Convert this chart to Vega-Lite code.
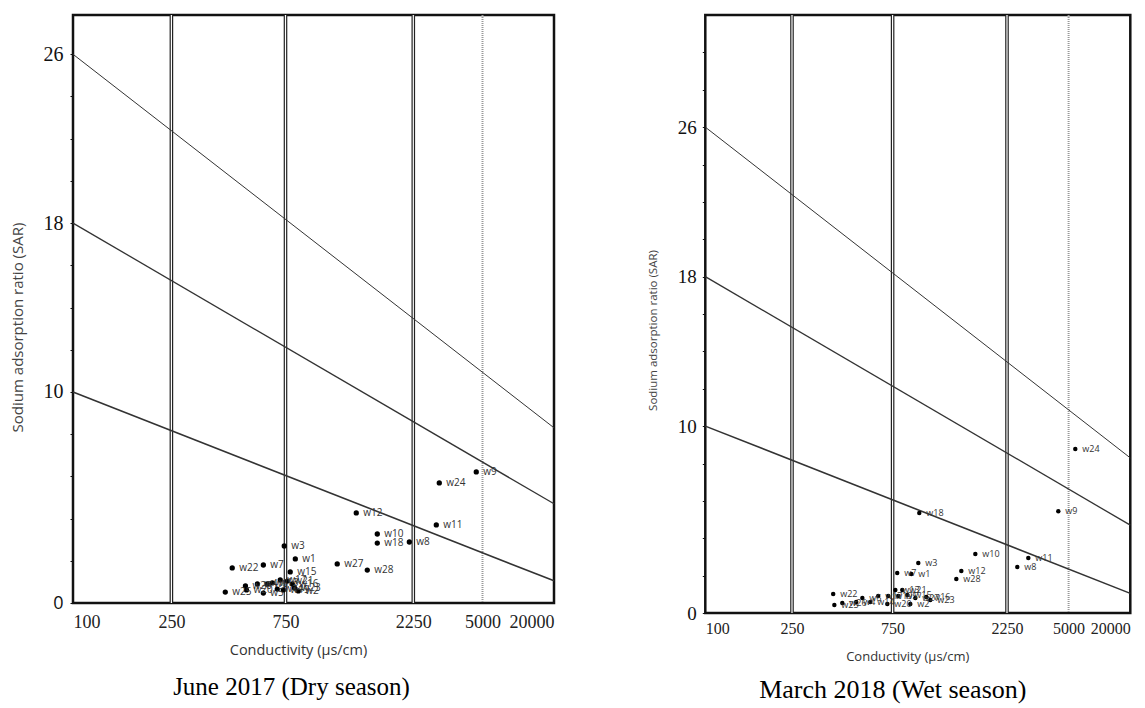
{
  "$schema": "https://vega.github.io/schema/vega-lite/v6.json",
  "background": "white",
  "padding": {"left": 8, "top": 11, "right": 5, "bottom": 2},
  "bounds": "flush",
  "spacing": 151.3,
  "config": {
    "view": {"stroke": "#111", "strokeWidth": 2.5},
    "axis": {"grid": false}
  },
  "datasets": {
    "hazard": [
      {"boundary": "S4/S3", "ec": 100, "sar": 26},
      {"boundary": "S4/S3", "ec": 20000, "sar": 8.3},
      {"boundary": "S3/S2", "ec": 100, "sar": 18},
      {"boundary": "S3/S2", "ec": 20000, "sar": 4.7},
      {"boundary": "S2/S1", "ec": 100, "sar": 10},
      {"boundary": "S2/S1", "ec": 20000, "sar": 1.05}
    ],
    "classes": [{"ec": 250}, {"ec": 750}, {"ec": 2250}],
    "limit": [{"ec": 5000}],
    "june": [
      {"well": "w1", "ec": 816, "sar": 2.09},
      {"well": "w2", "ec": 837, "sar": 0.57},
      {"well": "w3", "ec": 741, "sar": 2.70},
      {"well": "w4", "ec": 572, "sar": 0.90},
      {"well": "w5", "ec": 606, "sar": 0.47},
      {"well": "w6", "ec": 629, "sar": 0.90},
      {"well": "w7", "ec": 606, "sar": 1.80},
      {"well": "w8", "ec": 2175, "sar": 2.89},
      {"well": "w9", "ec": 4653, "sar": 6.21},
      {"well": "w10", "ec": 1651, "sar": 3.27},
      {"well": "w11", "ec": 2934, "sar": 3.70},
      {"well": "w12", "ec": 1378, "sar": 4.27},
      {"well": "w13", "ec": 660, "sar": 0.95},
      {"well": "w14", "ec": 693, "sar": 0.66},
      {"well": "w15", "ec": 781, "sar": 1.47},
      {"well": "w16", "ec": 795, "sar": 0.90},
      {"well": "w17", "ec": 713, "sar": 1.09},
      {"well": "w18", "ec": 1651, "sar": 2.84},
      {"well": "w19", "ec": 734, "sar": 0.62},
      {"well": "w20", "ec": 515, "sar": 0.62},
      {"well": "w21", "ec": 761, "sar": 1.04},
      {"well": "w22", "ec": 449, "sar": 1.66},
      {"well": "w23", "ec": 810, "sar": 0.71},
      {"well": "w24", "ec": 3037, "sar": 5.69},
      {"well": "w25", "ec": 420, "sar": 0.52},
      {"well": "w26", "ec": 510, "sar": 0.81},
      {"well": "w27", "ec": 1170, "sar": 1.85},
      {"well": "w28", "ec": 1515, "sar": 1.56}
    ],
    "march": [
      {"well": "w1", "ec": 898, "sar": 2.09},
      {"well": "w2", "ec": 889, "sar": 0.48},
      {"well": "w3", "ec": 960, "sar": 2.67},
      {"well": "w4", "ec": 504, "sar": 0.59},
      {"well": "w5", "ec": 792, "sar": 0.91},
      {"well": "w6", "ec": 539, "sar": 0.80},
      {"well": "w7", "ec": 784, "sar": 2.14},
      {"well": "w8", "ec": 2571, "sar": 2.46},
      {"well": "w9", "ec": 4376, "sar": 5.45},
      {"well": "w10", "ec": 1660, "sar": 3.16},
      {"well": "w11", "ec": 2966, "sar": 2.94},
      {"well": "w12", "ec": 1451, "sar": 2.25},
      {"well": "w13", "ec": 770, "sar": 1.23},
      {"well": "w14", "ec": 588, "sar": 0.59},
      {"well": "w15", "ec": 864, "sar": 0.96},
      {"well": "w16", "ec": 1036, "sar": 0.86},
      {"well": "w17", "ec": 641, "sar": 0.91},
      {"well": "w18", "ec": 969, "sar": 5.35},
      {"well": "w19", "ec": 715, "sar": 0.91},
      {"well": "w20", "ec": 708, "sar": 0.48},
      {"well": "w21", "ec": 823, "sar": 1.23},
      {"well": "w22", "ec": 392, "sar": 1.02},
      {"well": "w23", "ec": 1077, "sar": 0.70},
      {"well": "w24", "ec": 5813, "sar": 8.77},
      {"well": "w25", "ec": 397, "sar": 0.43},
      {"well": "w26", "ec": 433, "sar": 0.53},
      {"well": "w27", "ec": 933, "sar": 0.80},
      {"well": "w28", "ec": 1383, "sar": 1.82}
    ]
  },
  "hconcat": [
    {
      "width": 481,
      "height": 588,
      "title": {"text": "June 2017 (Dry season)", "orient": "bottom", "font": "Liberation Serif", "fontSize": 25, "fontWeight": "normal", "color": "#000", "offset": 18, "dx": -22},
      "encoding": {
        "x": {
          "field": "ec", "type": "quantitative",
          "scale": {"type": "log", "domain": [100, 250, 750, 2250, 5000, 20000], "range": [0, 98.4, 212.5, 340.3, 409.5, 481], "nice": false, "zero": false},
          "axis": {
            "values": [100, 250, 750, 2250, 5000, 20000], "format": "d", "ticks": false, "domain": false,
            "labelFont": "Liberation Serif", "labelFontSize": 18, "labelColor": "#222", "labelPadding": 10,
            "title": "Conductivity (μs/cm)", "titleFont": "Open Sans", "titleFontSize": 14.5, "titleFontWeight": "normal", "titleColor": "#333", "titlePadding": 12, "titleX": 225
          }
        }
      },
      "layer": [
        {
          "data": {"name": "classes"},
          "mark": {"type": "rule", "color": "#222", "strokeWidth": 3.6}
        },
        {
          "data": {"name": "classes"},
          "mark": {"type": "rule", "color": "#fff", "strokeWidth": 1.2}
        },
        {
          "data": {"name": "limit"},
          "mark": {"type": "rule", "color": "#999", "strokeWidth": 2, "strokeDash": [1, 1]}
        },
        {
          "data": {"name": "hazard"},
          "mark": {"type": "line", "color": "#333"},
          "encoding": {
            "y": {
              "field": "sar", "type": "quantitative",
              "scale": {"domain": [0, 27.86], "nice": false, "zero": false},
              "axis": {
                "values": [0, 2, 4, 6, 8, 10, 12, 14, 16, 18, 20, 22, 24, 26],
                "labelExpr": "indexof([0, 10, 18, 26], datum.value) >= 0 ? datum.label : ''",
                "domain": false, "ticks": true, "tickSize": 3, "tickColor": "#111", "tickWidth": 1,
                "labelFont": {"condition": {"test": "datum.value === 0", "value": "Open Sans"}, "value": "Liberation Serif"},
                "labelFontSize": {"condition": {"test": "datum.value === 0", "value": 18}, "value": 20},
                "labelColor": "#111", "labelPadding": 7, "minExtent": 38, "maxExtent": 38,
                "title": "Sodium adsorption ratio (SAR)", "titleFont": "Open Sans", "titleFontSize": 15, "titleFontWeight": "normal", "titleColor": "#444", "titlePadding": 10, "titleY": 312
              }
            },
            "detail": {"field": "boundary"},
            "strokeWidth": {"field": "boundary", "type": "nominal", "scale": {"domain": ["S4/S3", "S3/S2", "S2/S1"], "range": [1, 1.6, 2]}, "legend": null}
          }
        },
        {
          "data": {"name": "june"},
          "mark": {"type": "circle", "color": "#000", "size": 28, "opacity": 1},
          "encoding": {
            "y": {
              "field": "sar", "type": "quantitative",
              "scale": {"domain": [0, 27.86], "nice": false, "zero": false},
              "axis": {
                "values": [0, 2, 4, 6, 8, 10, 12, 14, 16, 18, 20, 22, 24, 26],
                "labelExpr": "indexof([0, 10, 18, 26], datum.value) >= 0 ? datum.label : ''",
                "domain": false, "ticks": true, "tickSize": 3, "tickColor": "#111", "tickWidth": 1,
                "labelFont": {"condition": {"test": "datum.value === 0", "value": "Open Sans"}, "value": "Liberation Serif"},
                "labelFontSize": {"condition": {"test": "datum.value === 0", "value": 18}, "value": 20},
                "labelColor": "#111", "labelPadding": 7, "minExtent": 38, "maxExtent": 38,
                "title": "Sodium adsorption ratio (SAR)", "titleFont": "Open Sans", "titleFontSize": 15, "titleFontWeight": "normal", "titleColor": "#444", "titlePadding": 10, "titleY": 312
              }
            }
          }
        },
        {
          "data": {"name": "june"},
          "mark": {"type": "text", "align": "left", "baseline": "middle", "dx": 7, "font": "Open Sans", "fontSize": 10, "color": "#333"},
          "encoding": {
            "y": {
              "field": "sar", "type": "quantitative",
              "scale": {"domain": [0, 27.86], "nice": false, "zero": false},
              "axis": {
                "values": [0, 2, 4, 6, 8, 10, 12, 14, 16, 18, 20, 22, 24, 26],
                "labelExpr": "indexof([0, 10, 18, 26], datum.value) >= 0 ? datum.label : ''",
                "domain": false, "ticks": true, "tickSize": 3, "tickColor": "#111", "tickWidth": 1,
                "labelFont": {"condition": {"test": "datum.value === 0", "value": "Open Sans"}, "value": "Liberation Serif"},
                "labelFontSize": {"condition": {"test": "datum.value === 0", "value": 18}, "value": 20},
                "labelColor": "#111", "labelPadding": 7, "minExtent": 38, "maxExtent": 38,
                "title": "Sodium adsorption ratio (SAR)", "titleFont": "Open Sans", "titleFontSize": 15, "titleFontWeight": "normal", "titleColor": "#444", "titlePadding": 10, "titleY": 312
              }
            },
            "text": {"field": "well"}
          }
        }
      ]
    },
    {
      "width": 425,
      "height": 598,
      "title": {"text": "March 2018 (Wet season)", "orient": "bottom", "font": "Liberation Serif", "fontSize": 26, "fontWeight": "normal", "color": "#000", "offset": 14, "dx": -25},
      "encoding": {
        "x": {
          "field": "ec", "type": "quantitative",
          "scale": {"type": "log", "domain": [100, 250, 750, 2250, 5000, 20000], "range": [0, 86.7, 187.3, 301.7, 363.3, 425], "nice": false, "zero": false},
          "axis": {
            "values": [100, 250, 750, 2250, 5000, 20000], "format": "d", "ticks": false, "domain": false,
            "labelFont": "Liberation Serif", "labelFontSize": 16, "labelColor": "#222", "labelPadding": 7,
            "title": "Conductivity (μs/cm)", "titleFont": "Open Sans", "titleFontSize": 13, "titleFontWeight": "normal", "titleColor": "#333", "titlePadding": 14, "titleX": 202
          }
        }
      },
      "layer": [
        {
          "data": {"name": "classes"},
          "mark": {"type": "rule", "color": "#222", "strokeWidth": 3.6}
        },
        {
          "data": {"name": "classes"},
          "mark": {"type": "rule", "color": "#fff", "strokeWidth": 1.2}
        },
        {
          "data": {"name": "limit"},
          "mark": {"type": "rule", "color": "#999", "strokeWidth": 2, "strokeDash": [1, 1]}
        },
        {
          "data": {"name": "hazard"},
          "mark": {"type": "line", "color": "#333"},
          "encoding": {
            "y": {
              "field": "sar", "type": "quantitative",
              "scale": {"domain": [0, 32], "nice": false, "zero": false},
              "axis": {
                "values": [0, 2, 4, 6, 8, 10, 12, 14, 16, 18, 20, 22, 24, 26, 28, 30],
                "labelExpr": "indexof([0, 10, 18, 26], datum.value) >= 0 ? datum.label : ''",
                "domain": false, "ticks": true, "tickSize": 3, "tickColor": "#111", "tickWidth": 1,
                "labelFont": "Liberation Serif", "labelFontSize": 19,
                "labelColor": "#111", "labelPadding": 6, "minExtent": 38, "maxExtent": 38,
                "title": "Sodium adsorption ratio (SAR)", "titleFont": "Open Sans", "titleFontSize": 11.5, "titleFontWeight": "normal", "titleColor": "#444", "titlePadding": 9, "titleY": 315
              }
            },
            "detail": {"field": "boundary"},
            "strokeWidth": {"field": "boundary", "type": "nominal", "scale": {"domain": ["S4/S3", "S3/S2", "S2/S1"], "range": [1, 1.6, 2]}, "legend": null}
          }
        },
        {
          "data": {"name": "march"},
          "mark": {"type": "circle", "color": "#000", "size": 20, "opacity": 1},
          "encoding": {
            "y": {
              "field": "sar", "type": "quantitative",
              "scale": {"domain": [0, 32], "nice": false, "zero": false},
              "axis": {
                "values": [0, 2, 4, 6, 8, 10, 12, 14, 16, 18, 20, 22, 24, 26, 28, 30],
                "labelExpr": "indexof([0, 10, 18, 26], datum.value) >= 0 ? datum.label : ''",
                "domain": false, "ticks": true, "tickSize": 3, "tickColor": "#111", "tickWidth": 1,
                "labelFont": "Liberation Serif", "labelFontSize": 19,
                "labelColor": "#111", "labelPadding": 6, "minExtent": 38, "maxExtent": 38,
                "title": "Sodium adsorption ratio (SAR)", "titleFont": "Open Sans", "titleFontSize": 11.5, "titleFontWeight": "normal", "titleColor": "#444", "titlePadding": 9, "titleY": 315
              }
            }
          }
        },
        {
          "data": {"name": "march"},
          "mark": {"type": "text", "align": "left", "baseline": "middle", "dx": 7, "font": "Open Sans", "fontSize": 9, "color": "#333"},
          "encoding": {
            "y": {
              "field": "sar", "type": "quantitative",
              "scale": {"domain": [0, 32], "nice": false, "zero": false},
              "axis": {
                "values": [0, 2, 4, 6, 8, 10, 12, 14, 16, 18, 20, 22, 24, 26, 28, 30],
                "labelExpr": "indexof([0, 10, 18, 26], datum.value) >= 0 ? datum.label : ''",
                "domain": false, "ticks": true, "tickSize": 3, "tickColor": "#111", "tickWidth": 1,
                "labelFont": "Liberation Serif", "labelFontSize": 19,
                "labelColor": "#111", "labelPadding": 6, "minExtent": 38, "maxExtent": 38,
                "title": "Sodium adsorption ratio (SAR)", "titleFont": "Open Sans", "titleFontSize": 11.5, "titleFontWeight": "normal", "titleColor": "#444", "titlePadding": 9, "titleY": 315
              }
            },
            "text": {"field": "well"}
          }
        }
      ]
    }
  ]
}
